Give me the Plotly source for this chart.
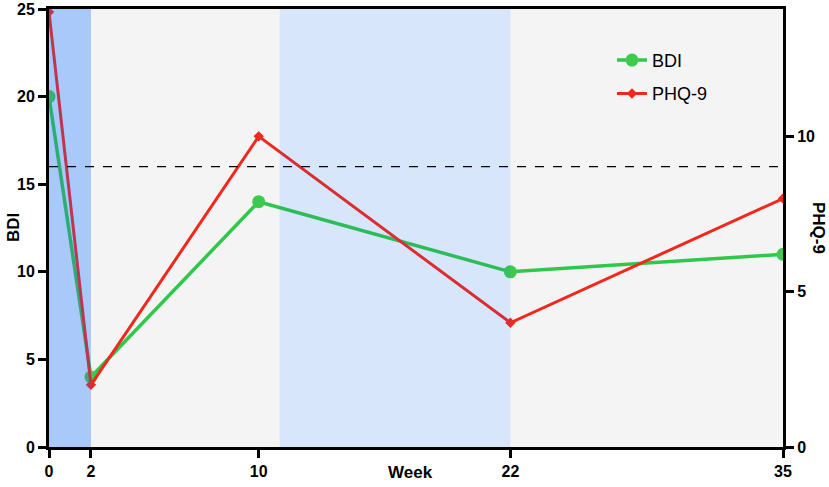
import plotly.graph_objs as go

# data
weeks = [0, 2, 10, 22, 35]
bdi = [20, 4, 14, 10, 11]
phq9 = [14, 2, 10, 4, 8]
cutoff_bdi = 16

# phases (weeks)
phase_dark = (0, 2)
phase_light = (11, 22)

FONT = "Liberation Sans, Arial"
tick_font = dict(family=FONT, size=16, color="black", weight="bold")
title_font = dict(family=FONT, size=17, color="black", weight="bold")

fig = go.Figure()

fig.add_trace(go.Scatter(
    x=weeks, y=bdi, name="BDI", mode="lines+markers", legendgroup="a",
    line=dict(color="#2FC84A", width=3.5),
    marker=dict(symbol="circle", size=13, color="#3CCB4E"),
))
fig.add_trace(go.Scatter(
    x=weeks, y=phq9, name="PHQ-9", mode="lines+markers", yaxis="y2",
    legendgroup="b",
    line=dict(color="#F0281E", width=3),
    marker=dict(symbol="diamond", size=8, color="#F0281E"),
))

# shaded phases: a pale fill underneath plus a thin tint on top, so the
# lines crossing the phases get darker like in the original figure
for (x0, x1), base, tint in [(phase_dark, "#D3EEFD", 0.25),
                             (phase_light, "#ECF7FD", 0.10)]:
    fig.add_shape(type="rect", xref="x", yref="y", layer="below",
                  x0=x0, x1=x1, y0=0, y1=25, fillcolor=base, line_width=0)
    fig.add_shape(type="rect", xref="x", yref="y", layer="above",
                  x0=x0, x1=x1, y0=0, y1=25, fillcolor="#285AF0",
                  opacity=tint, line_width=0)

# cutoff line
fig.add_shape(type="line", xref="x", yref="y",
              x0=weeks[0], x1=weeks[-1], y0=cutoff_bdi, y1=cutoff_bdi,
              line=dict(color="black", width=1.2, dash="dash"))

axis_common = dict(showgrid=False, zeroline=False, showline=True,
                   linecolor="black", linewidth=3, ticks="outside", ticklen=8,
                   tickwidth=3, tickcolor="black", tickfont=tick_font,
                   automargin=False)

fig.update_layout(
    width=829, height=487,
    margin=dict(l=49, r=46, t=9, b=40, autoexpand=False),
    paper_bgcolor="white",
    plot_bgcolor="#F4F4F4",
    showlegend=True,
    legend=dict(x=0.767, y=0.925, xanchor="left", yanchor="top",
                bgcolor="rgba(0,0,0,0)", traceorder="grouped",
                font=dict(family=FONT, size=18, color="black"),
                itemwidth=30, tracegroupgap=7),
    xaxis=dict(range=[0, 35], tickvals=weeks, mirror=True, **axis_common),
    yaxis=dict(range=[0, 25], tickvals=[0, 5, 10, 15, 20, 25], **axis_common),
    yaxis2=dict(range=[0, 14.1], tickvals=[0, 5, 10], overlaying="y",
                side="right", **axis_common),
)

fig.add_annotation(text="Week", xref="paper", yref="paper", x=0.5, y=0,
                   yanchor="middle", xshift=-6, yshift=-25, showarrow=False,
                   font=title_font)
fig.add_annotation(text="BDI", xref="paper", yref="paper", x=0, y=0.5,
                   xanchor="center", xshift=-36, textangle=-90, showarrow=False,
                   font=title_font)
fig.add_annotation(text="PHQ-9", xref="paper", yref="paper", x=1, y=0.5,
                   xanchor="center", xshift=36, textangle=90, showarrow=False,
                   font=title_font)

# drop the default 8px body margin so the figure fills the window
fig.write_html("out.html", config={"displayModeBar": False},
               post_script="document.body.style.margin='0px';")
